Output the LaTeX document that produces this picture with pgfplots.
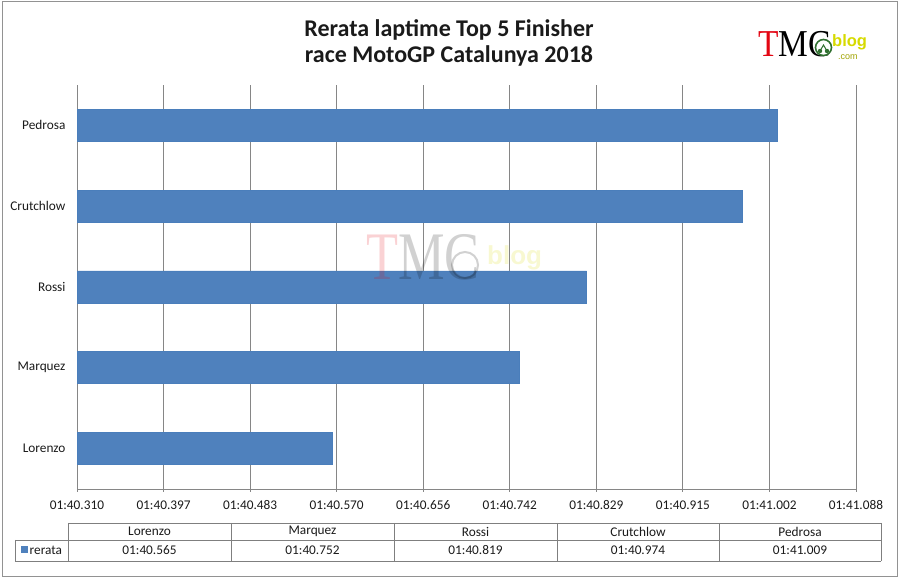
\documentclass[border=0pt]{standalone}
\usepackage{pgfplots}
\pgfplotsset{compat=1.18}
\usepackage{fontspec}
\setmainfont{Carlito}
\newfontfamily\logoserif{Liberation Serif}
\newfontfamily\logosans{Liberation Sans}
\definecolor{barblue}{HTML}{4F81BD}
\definecolor{bardraw}{HTML}{4A7EBB}
\definecolor{gridc}{HTML}{868686}
\definecolor{txt}{HTML}{1A1A1A}
\definecolor{tblline}{HTML}{7F7F7F}
\definecolor{logored}{HTML}{E30613}
\definecolor{logoyel}{HTML}{D6DA00}
\definecolor{logogreen}{HTML}{3C8C3C}

\begin{document}
\begin{tikzpicture}
\begin{scope}[x=1pt,y=1pt]
\useasboundingbox (0,0) rectangle (899,578);
\draw[gridc!90, line width=1pt] (2,1.5) rectangle (897,576.5);
\end{scope}

\begin{axis}[
  at={(77pt,89pt)}, anchor=south west,
  scale only axis, width=779pt, height=404pt,
  xmin=0, xmax=0.778, ymin=-0.5, ymax=4.5,
  xbar, bar width=32pt,
  xtick={0,0.086444,0.172889,0.259333,0.345778,0.432222,0.518667,0.605111,0.691556,0.778},
  xticklabels={01:40.310,01:40.397,01:40.483,01:40.570,01:40.656,01:40.742,01:40.829,01:40.915,01:41.002,01:41.088},
  ytick={0,1,2,3,4},
  yticklabels={Lorenzo,Marquez,Rossi,Crutchlow,Pedrosa},
  xmajorgrids,
  major grid style={gridc, line width=0.8pt},
  axis x line*=bottom, axis y line*=left,
  axis line style={gridc, line width=0.8pt},
  xtick align=outside, major tick length=3pt,
  xtick style={gridc, line width=0.8pt},
  ytick style={draw=none},
  tick label style={font=\fontsize{13.3}{16}\selectfont, text=txt},
  xticklabel style={yshift=-5pt},
  yticklabel style={xshift=-5pt},
  clip=false,
]
\addplot[fill=barblue, draw=bardraw, line width=0.6pt,
  x filter/.expression={x-100.31}]
  coordinates {(100.565,0) (100.752,1) (100.819,2) (100.974,3) (101.009,4)};
\end{axis}

\begin{scope}[x=1pt,y=1pt]
% title
\node[anchor=base, font=\fontsize{24}{28}\selectfont\bfseries, text=txt] at (449,541) {Rerata laptime Top 5 Finisher};
\node[anchor=base, font=\fontsize{24}{28}\selectfont\bfseries, text=txt] at (449,515) {race MotoGP Catalunya 2018};

% logo top right
\node[anchor=base west, inner sep=0, font=\logoserif\fontsize{38}{38}\selectfont, xscale=0.88] at (758,521)
  {\textcolor{logored}{T}\textcolor{black}{MC}};
\draw[logogreen!80!black, line width=1.6pt, fill=white] (823.5,530.5) circle (8pt);
\fill[logogreen!80!black] (820,527) circle (2.2pt) (827,527) circle (2.2pt);
\draw[logogreen!80!black, line width=1pt] (820,527) -- (823.5,533) -- (827,527);
\node[anchor=base west, inner sep=0, font=\logosans\bfseries\fontsize{16.5}{16.5}\selectfont, text=logoyel] at (832,531) {blog};
\node[anchor=base west, inner sep=0, font=\logosans\fontsize{9}{9}\selectfont, text=logoyel!75!black] at (838,518.5) {.com};

% watermark
\begin{scope}[opacity=0.18]
\node[anchor=base west, inner sep=0, font=\logoserif\fontsize{68}{68}\selectfont, xscale=0.77] at (366,298)
  {\textcolor{logored}{T}\textcolor{black}{MC}};
\draw[black, line width=2pt] (465,313) circle (13pt);
\node[anchor=base west, inner sep=0, font=\logosans\bfseries\fontsize{26}{26}\selectfont, text=logoyel] at (487,313) {blog};
\end{scope}

% data table
\begin{scope}[draw=tblline, line width=0.8pt]
\draw (68,55) -- (881,55);
\draw (15,38) -- (881,38);
\draw (15,17) -- (881,17);
\draw (15,38) -- (15,17);
\foreach \xx in {68,231,394,557,719,881} { \draw (\xx,55) -- (\xx,17); }
\end{scope}
\begin{scope}[font=\fontsize{13.3}{16}\selectfont, text=txt]
\node at (149.5,46.5) {Lorenzo};
\node at (312.5,46.5) {Marquez};
\node at (475.5,46.5) {Rossi};
\node at (638,46.5) {Crutchlow};
\node at (800,46.5) {Pedrosa};
\node at (149.5,27.5) {01:40.565};
\node at (312.5,27.5) {01:40.752};
\node at (475.5,27.5) {01:40.819};
\node at (638,27.5) {01:40.974};
\node at (800,27.5) {01:41.009};
\fill[barblue] (21,24.5) rectangle (28,31.5);
\node[anchor=west, inner sep=0] at (29.5,27.5) {rerata};
\end{scope}
\end{scope}
\end{tikzpicture}
\end{document}
